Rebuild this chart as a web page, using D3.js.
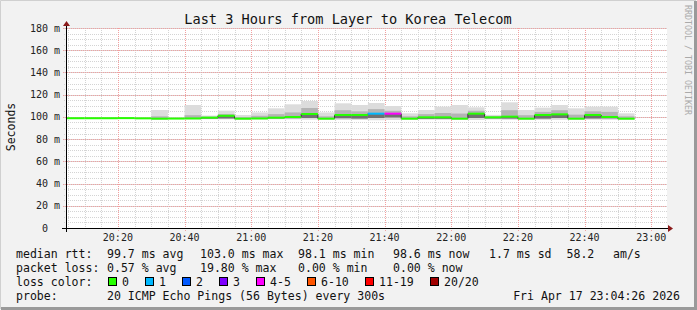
<!DOCTYPE html>
<html>
<head>
<meta charset="utf-8">
<script src="https://cdn.jsdelivr.net/npm/d3@7/dist/d3.min.js"></script>
<style>
  body { margin: 0; background: #f2f2f2; }
  svg text { font-family: "DejaVu Sans Mono", monospace; white-space: pre; }
</style>
</head>
<body>
<svg id="chart" width="697" height="310"></svg>
<script>
// 5 minute steps, start time of each step
var stepTimes = ["20:00","20:05","20:10","20:15","20:20","20:25","20:30","20:35","20:40","20:45",
                 "20:50","20:55","21:00","21:05","21:10","21:15","21:20","21:25","21:30","21:35",
                 "21:40","21:45","21:50","21:55","22:00","22:05","22:10","22:15","22:20","22:25",
                 "22:30","22:35","22:40","22:45","22:50"];
// smoke: min / inner low / median / inner high / max rtt (ms)
var rttMin = [98.3, 98.3, 98.3, 98.3, 98.4, 98.2, 97.6, 98.0, 97.8, 97.9,
              97.8, 97.6, 97.7, 97.9, 97.8, 97.5, 97.6, 97.3, 97.2, 97.0,
              97.2, 97.6, 97.5, 97.4, 97.5, 97.2, 97.7, 97.4, 97.6, 97.3,
              97.4, 97.6, 97.5, 97.4, 97.6];
var rttLo  = [98.5, 98.5, 98.5, 98.5, 98.6, 98.4, 98.0, 98.2, 98.2, 98.4,
              98.6, 98.0, 98.5, 98.6, 98.8, 99.0, 98.0, 98.8, 98.5, 99.0,
              99.5, 98.0, 98.2, 98.3, 98.0, 99.0, 98.6, 98.5, 98.0, 98.5,
              99.0, 98.0, 98.6, 98.7, 98.0];
var rttMed = [98.8, 98.8, 98.8, 98.8, 98.9, 98.7, 98.4, 98.5, 98.6, 99.3,
              101.0, 98.4, 98.6, 99.3, 99.9, 102.6, 98.4, 101.7, 101.7, 102.9,
              102.9, 98.4, 99.6, 99.6, 98.4, 102.9, 99.6, 100.2, 98.4, 101.7,
              102.3, 98.4, 101.7, 99.9, 98.4];
var rttHi  = [99.0, 99.0, 99.0, 99.0, 99.1, 99.0, 100.5, 98.9, 101.5, 100.2,
              102.5, 99.8, 101.0, 102.5, 104.0, 108.0, 100.5, 106.0, 105.0, 107.0,
              105.5, 100.5, 102.5, 103.5, 103.0, 105.5, 100.6, 106.0, 101.5, 104.5,
              106.0, 102.0, 105.0, 104.5, 100.5];
var rttMax = [99.2, 99.2, 99.2, 99.3, 99.4, 99.5, 106.2, 99.6, 110.7, 101.2,
              105.6, 101.7, 104.0, 107.7, 111.3, 114.3, 104.0, 112.2, 110.7, 112.5,
              109.8, 103.2, 106.2, 109.2, 110.7, 108.6, 101.8, 113.1, 106.2, 108.3,
              110.7, 107.7, 109.2, 109.2, 103.2];
// lost pings out of 20
var lossCount = [0,0,0,0,0,0,0,0,0,0, 0,0,0,0,0,0,0,0,0,1, 4,0,0,0,0,0,0,0,0,0, 0,0,0,0,0];

var yTicks = [0, 20, 40, 60, 80, 100, 120, 140, 160, 180];
var xTickLabels = ["20:20","20:40","21:00","21:20","21:40","22:00","22:20","22:40","23:00"];

var lossLabels = ["0", "1", "2", "3", "4-5", "6-10", "11-19", "20/20"];
var lossMax    = [0, 1, 2, 3, 5, 10, 19, 20];
var lossColors = ["#26ff00", "#00b8ff", "#0059ff", "#7e00ff", "#ff00ff", "#ff5500", "#ff0000", "#a00000"];

var day = "2026-04-17 ";
var parseT = d3.timeParse("%Y-%m-%d %H:%M:%S");
var tStart = parseT(day + "20:04:26"), tEnd = parseT(day + "23:04:26");
function stepDate(s) { return parseT(day + s + ":00"); }

var svg = d3.select("#chart");
var W = 697, H = 310;
var pLeft = 66, pRight = 666, pTop = 28, pBottom = 228;

var x = d3.scaleTime().domain([tStart, tEnd]).range([pLeft, pRight]);
var y = d3.scaleLinear().domain([0, 180]).range([pBottom, pTop]);

// background + 3d border
svg.append("rect").attr("width", W).attr("height", H).attr("fill", "#f2f2f2");
svg.append("path").attr("d", "M0.5," + (H - 1) + "V0.5H" + (W - 1)).attr("fill", "none").attr("stroke", "#d0d0d0");
svg.append("path").attr("d", "M1," + (H - 1.5) + "H" + (W - 1.5) + "V1").attr("fill", "none").attr("stroke", "#9a9a9a").attr("stroke-width", 3);

svg.append("rect").attr("x", pLeft).attr("y", pTop).attr("width", pRight - pLeft + 1).attr("height", pBottom - pTop)
  .attr("fill", "#ffffff");

// grid
var minorX = x.ticks(d3.timeMinute.every(5));
var majorX = xTickLabels.map(stepDate);
var minorY = d3.range(0, 181, 5);

var grid = svg.append("g").attr("shape-rendering", "crispEdges");
grid.selectAll(".mx").data(minorX).enter().append("line")
  .attr("x1", function(d) { return Math.round(x(d)) + 0.5; })
  .attr("x2", function(d) { return Math.round(x(d)) + 0.5; })
  .attr("y1", pTop).attr("y2", pBottom + 2)
  .attr("stroke", "#d4d4d4").attr("stroke-dasharray", "1,1");
grid.selectAll(".my").data(minorY).enter().append("line")
  .attr("x1", pLeft - 2).attr("x2", pRight + 1)
  .attr("y1", function(d) { return Math.round(y(d)) + 0.5; })
  .attr("y2", function(d) { return Math.round(y(d)) + 0.5; })
  .attr("stroke", "#d4d4d4").attr("stroke-dasharray", "1,1");
grid.selectAll(".Mx").data(majorX).enter().append("line")
  .attr("x1", function(d) { return Math.round(x(d)) + 0.5; })
  .attr("x2", function(d) { return Math.round(x(d)) + 0.5; })
  .attr("y1", pTop).attr("y2", pBottom + 3)
  .attr("stroke", "#f2a0a0").attr("stroke-dasharray", "1,1");
grid.selectAll(".My").data(yTicks).enter().append("line")
  .attr("x1", pLeft - 3).attr("x2", pRight + 1)
  .attr("y1", function(d) { return Math.round(y(d)) + 0.5; })
  .attr("y2", function(d) { return Math.round(y(d)) + 0.5; })
  .attr("stroke", "#f2a0a0").attr("stroke-dasharray", "1,1");

// smoke + median
var steps = stepTimes.map(function(s, i) {
  return { t0: stepDate(s), t1: d3.timeMinute.offset(stepDate(s), 5),
           min: rttMin[i], lo: rttLo[i], med: rttMed[i], hi: rttHi[i], max: rttMax[i], loss: lossCount[i] };
});

svg.append("clipPath").attr("id", "plotclip").append("rect")
  .attr("x", pLeft).attr("y", pTop).attr("width", pRight - pLeft).attr("height", pBottom - pTop);
var plot = svg.append("g").attr("clip-path", "url(#plotclip)");

plot.selectAll(".smoke-out").data(steps).enter().append("rect")
  .attr("x", function(d) { return x(d.t0); })
  .attr("width", function(d) { return x(d.t1) - x(d.t0); })
  .attr("y", function(d) { return y(d.max); })
  .attr("height", function(d) { return y(d.min) - y(d.max); })
  .attr("fill", "#dcdcdc");
plot.selectAll(".smoke-in").data(steps).enter().append("rect")
  .attr("x", function(d) { return x(d.t0); })
  .attr("width", function(d) { return x(d.t1) - x(d.t0); })
  .attr("y", function(d) { return y(d.hi); })
  .attr("height", function(d) { return y(d.lo) - y(d.hi); })
  .attr("fill", "#b4b4b4");
plot.selectAll(".smoke-core").data(steps).enter().append("rect")
  .attr("x", function(d) { return x(d.t0); })
  .attr("width", function(d) { return x(d.t1) - x(d.t0); })
  .attr("y", function(d) { return y(d.med); })
  .attr("height", function(d) { return Math.max(0, y(d.lo) - y(d.med)); })
  .attr("fill", "#707070");

function lossColor(n) {
  for (var i = 0; i < lossMax.length; i++) if (n <= lossMax[i]) return lossColors[i];
  return lossColors[lossColors.length - 1];
}

// dark joins between steps
plot.selectAll(".join").data(steps.slice(1)).enter().append("line")
  .attr("x1", function(d) { return x(d.t0); })
  .attr("x2", function(d) { return x(d.t0); })
  .attr("y1", function(d, i) { return y(steps[i].med); })
  .attr("y2", function(d) { return y(d.med); })
  .attr("stroke", "#333").attr("stroke-width", 1);

plot.selectAll(".med").data(steps).enter().append("line")
  .attr("x1", function(d) { return x(d.t0); })
  .attr("x2", function(d) { return x(d.t1); })
  .attr("y1", function(d) { return y(d.med); })
  .attr("y2", function(d) { return y(d.med); })
  .attr("stroke", function(d) { return lossColor(d.loss); })
  .attr("stroke-width", 2);

// axes
var axisCol = "#000";
svg.append("line").attr("x1", pLeft - 4).attr("x2", pRight + 2).attr("y1", pBottom + 0.5).attr("y2", pBottom + 0.5)
  .attr("stroke", axisCol);
svg.append("line").attr("x1", pLeft + 0.5).attr("x2", pLeft + 0.5).attr("y1", pBottom + 4).attr("y2", pTop - 3)
  .attr("stroke", axisCol);
svg.append("path").attr("d", "M" + (pRight + 2) + "," + (pBottom - 3) + "l5,3.5l-5,3.5z").attr("fill", "#8b1a1a");
svg.append("path").attr("d", "M" + (pLeft - 3) + "," + (pTop - 2) + "l3.5,-5l3.5,5z").attr("fill", "#8b1a1a");

svg.append("g").selectAll("text").data(yTicks).enter().append("text")
  .attr("x", 60).attr("y", function(d) { return y(d); })
  .attr("dy", "0.36em").attr("text-anchor", "end")
  .attr("font-size", "10px").attr("fill", "#222")
  .text(function(d) { return d === 0 ? "0  " : d + " m"; });

svg.append("g").selectAll("text").data(majorX).enter().append("text")
  .attr("x", function(d) { return x(d); }).attr("y", 237)
  .attr("dy", "0.36em").attr("text-anchor", "middle")
  .attr("font-size", "10px").attr("fill", "#222")
  .text(d3.timeFormat("%H:%M"));

// titles
svg.append("text").attr("x", 348).attr("y", 19).attr("dy", "0.36em").attr("text-anchor", "middle")
  .attr("font-size", "13.6px").attr("fill", "#111").text("Last 3 Hours from Layer to Korea Telecom");
svg.append("text").attr("transform", "translate(11,127) rotate(-90)").attr("dy", "0.36em")
  .attr("text-anchor", "middle").attr("font-size", "11.5px").attr("fill", "#111").text("Seconds");
svg.append("text").attr("transform", "translate(688,5) rotate(90)").attr("dy", "0.36em")
  .attr("font-size", "8.3px").attr("fill", "#aaaaaa").text("RRDTOOL / TOBI OETIKER");

// legend
var lg = svg.append("g").attr("font-size", "11.55px").attr("fill", "#111");
var rows = [
  [254, [[16, "median rtt:"], [107, "99.7 ms avg"], [200, "103.0 ms max"], [298, "98.1 ms min"],
         [393, "98.6 ms now"], [489, "1.7 ms sd"], [566.5, "58.2"], [613, "am/s"]]],
  [268, [[16, "packet loss:"], [107, "0.57 % avg"], [200, "19.80 % max"], [298, "0.00 % min"],
         [393, "0.00 % now"]]],
  [282, [[16, "loss color:"]]],
  [296, [[16, "probe:"], [107, "20 ICMP Echo Pings (56 Bytes) every 300s"]]]
];
rows.forEach(function(r) {
  r[1].forEach(function(tok) {
    lg.append("text").attr("x", tok[0]).attr("y", r[0]).attr("dy", "0.36em").text(tok[1]);
  });
});
lg.append("text").attr("x", 680).attr("y", 296).attr("dy", "0.36em").attr("text-anchor", "end")
  .text("Fri Apr 17 23:04:26 2026");

var sx = 108;
lossLabels.forEach(function(lab, i) {
  lg.append("rect").attr("x", sx + 0.5).attr("y", 277.5).attr("width", 8).attr("height", 8)
    .attr("fill", lossColors[i]).attr("stroke", "#000");
  lg.append("text").attr("x", sx + 14).attr("y", 282).attr("dy", "0.36em").text(lab);
  sx += 30 + 7 * lab.length;
});
</script>
</body>
</html>
